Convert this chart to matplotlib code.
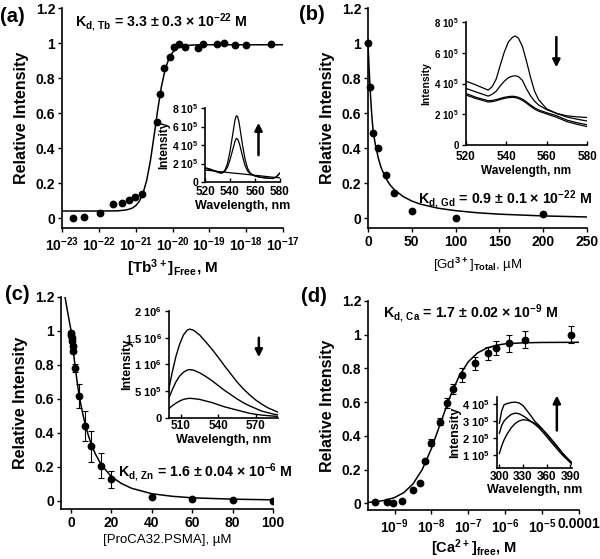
import numpy as np
import matplotlib
matplotlib.use("Agg")
import matplotlib.pyplot as plt
from matplotlib.ticker import NullLocator

plt.rcParams["font.family"] = ["Liberation Sans", "DejaVu Sans"]
plt.rcParams["font.weight"] = "bold"
plt.rcParams["axes.labelweight"] = "bold"
plt.rcParams["mathtext.fontset"] = "custom"
plt.rcParams["mathtext.rm"] = "Liberation Sans"
plt.rcParams["mathtext.bf"] = "Liberation Sans:bold"
plt.rcParams["mathtext.default"] = "bf"

# ---- (a) Tb3+ titration (x given as log10 of concentration) ----
tb_log = [-22.69, -22.39, -21.97, -21.62, -21.38, -21.19, -21.01, -20.83, -20.43, -20.35, -20.24,
          -20.06, -19.95, -19.81, -19.65, -19.32, -19.16, -18.79, -18.61, -18.31, -18.0, -17.33]
tb_int = [0.0, 0.005, 0.03, 0.08, 0.085, 0.105, 0.12, 0.14, 0.55, 0.71, 0.86,
          0.92, 0.977, 0.994, 0.975, 0.97, 0.996, 0.994, 1.0, 0.99, 0.987, 0.994]
fit_a_log = [-23, -22, -21.5, -21.3, -21.2, -21.1, -21.0, -20.9, -20.8, -20.7, -20.6, -20.5, -20.4,
             -20.3, -20.2, -20.1, -20.0, -19.9, -19.8, -19.6, -19.4, -19, -18, -17]
fit_a = [0.04, 0.04, 0.041, 0.045, 0.049, 0.056, 0.07, 0.096, 0.141, 0.216, 0.327, 0.47, 0.62,
         0.752, 0.849, 0.91, 0.946, 0.966, 0.978, 0.986, 0.989, 0.99, 0.99, 0.99]

# inset (a): Tb emission spectra
wl_a = [520, 524, 528, 532, 534, 536, 538, 540, 542, 544, 545, 546, 547, 548, 550, 552, 554, 556,
        559, 562, 566, 570, 574, 577, 580]
spec_a_hi = [1.55, 1.4, 1.2, 1.0, 1.0, 1.3, 2.0, 3.3, 5.0, 6.7, 7.15, 7.1, 6.6, 5.8, 4.0, 2.5, 1.5,
             1.0, 0.7, 0.58, 0.48, 0.42, 0.38, 0.55, 1.0]
spec_a_mid = [1.5, 1.35, 1.15, 0.97, 0.98, 1.2, 1.6, 2.4, 3.4, 4.4, 4.7, 4.65, 4.35, 3.9, 2.8, 1.8,
              1.2, 0.9, 0.7, 0.58, 0.48, 0.42, 0.38, 0.55, 0.95]
spec_a_lo = [1.3, 1.24, 1.18, 1.12, 1.09, 1.06, 1.03, 1.0, 0.97, 0.95, 0.93, 0.92, 0.91, 0.9, 0.87,
             0.84, 0.81, 0.78, 0.74, 0.7, 0.64, 0.58, 0.52, 0.48, 0.45]

# ---- (b) Gd3+ competition ----
gd_total = [0, 2.5, 6, 11, 21, 30, 50, 100, 200]
gd_int = [1.0, 0.75, 0.487, 0.398, 0.246, 0.145, 0.042, 0.0, 0.023]
fit_b_x = [0, 1, 2, 3, 4, 5, 6, 8, 10, 12, 15, 20, 25, 30, 40, 50, 60, 80, 100, 125, 150, 200, 250]
fit_b = [1.0, 0.88, 0.78, 0.69, 0.61, 0.545, 0.495, 0.43, 0.382, 0.338, 0.288, 0.23, 0.19, 0.162,
         0.123, 0.097, 0.079, 0.056, 0.042, 0.03, 0.022, 0.012, 0.006]

wl_b = [520, 525, 531, 533, 535, 537, 539, 541, 543, 544.5, 546, 548, 550, 552, 554, 556, 560, 565,
        570, 575, 580]
spec_b1 = [4.15, 3.9, 3.57, 3.8, 4.3, 5.2, 6.05, 6.7, 7.0, 7.09, 6.95, 6.4, 5.45, 4.4, 3.5, 2.95,
           2.35, 2.05, 1.9, 1.83, 1.79]
spec_b2 = [3.68, 3.45, 3.18, 3.3, 3.5, 3.85, 4.15, 4.38, 4.48, 4.5, 4.45, 4.2, 3.65, 3.2, 2.85, 2.6,
           2.3, 2.05, 1.82, 1.68, 1.56]
spec_b3 = [3.35, 3.1, 2.88, 2.9, 2.95, 3.03, 3.1, 3.15, 3.17, 3.15, 3.1, 2.98, 2.8, 2.6, 2.42, 2.28,
           2.1, 1.9, 1.62, 1.45, 1.32]
spec_b4 = [3.25, 3.02, 2.8, 2.82, 2.88, 2.96, 3.03, 3.08, 3.1, 3.08, 3.03, 2.9, 2.72, 2.52, 2.34,
           2.2, 2.02, 1.8, 1.52, 1.35, 1.2]

# ---- (c) Zn2+ / ProCA32.PSMA ----
psma = [0, 0.2, 0.4, 0.6, 0.8, 1.0, 2, 4, 7, 10, 15, 20, 40, 60, 80, 100]
psma_int = [0.99, 0.975, 0.96, 0.94, 0.91, 0.88, 0.78, 0.617, 0.44, 0.32, 0.205, 0.125, 0.023,
            0.008, 0.004, 0.0]
psma_err = [0.01, 0.01, 0.01, 0.01, 0.01, 0.01, 0.025, 0.07, 0.09, 0.09, 0.075, 0.05, 0.005, 0.005,
            0.005, 0.005]
fit_c_x = [-3, -2, -1, 0, 1, 2, 3, 4, 5, 6, 7, 8, 10, 12, 15, 20, 25, 30, 40, 50, 60, 80, 100]
fit_c = [1.2, 1.13, 1.065, 1.0, 0.89, 0.79, 0.70, 0.62, 0.555, 0.5, 0.45, 0.405, 0.33, 0.275, 0.21,
         0.14, 0.1, 0.072, 0.04, 0.025, 0.016, 0.008, 0.004]

wl_c = [500, 503, 506, 509, 512, 515, 517, 520, 525, 530, 535, 540, 545, 550, 555, 560, 565, 570,
        575, 580, 585, 588]
spec_c1 = [0.5, 0.85, 1.15, 1.38, 1.55, 1.64, 1.66, 1.64, 1.55, 1.42, 1.28, 1.13, 0.97, 0.82, 0.67,
           0.54, 0.43, 0.33, 0.25, 0.18, 0.13, 0.1]
spec_c2 = [0.35, 0.52, 0.67, 0.78, 0.85, 0.89, 0.9, 0.89, 0.84, 0.77, 0.69, 0.6, 0.51, 0.43, 0.35,
           0.28, 0.22, 0.17, 0.12, 0.09, 0.06, 0.05]
spec_c3 = [0.16, 0.22, 0.27, 0.31, 0.34, 0.355, 0.36, 0.355, 0.34, 0.31, 0.28, 0.24, 0.2, 0.17,
           0.14, 0.11, 0.08, 0.06, 0.045, 0.035, 0.025, 0.02]

# ---- (d) Ca2+ titration (x given as log10 of concentration) ----
ca_log = [-9.52, -9.20, -9.03, -8.80, -8.51, -8.30, -8.17, -8.0, -7.77, -7.57, -7.41, -7.17, -6.83,
          -6.48, -6.24, -5.9, -5.46, -4.22]
ca_int = [0.008, 0.008, 0.004, 0.012, 0.077, 0.12, 0.25, 0.36, 0.485, 0.596, 0.68, 0.76, 0.83,
          0.89, 0.92, 0.95, 0.97, 1.0]
ca_err = [0.005, 0.005, 0.005, 0.005, 0.005, 0.005, 0.01, 0.02, 0.02, 0.03, 0.03, 0.04, 0.04, 0.04,
          0.04, 0.05, 0.05, 0.05]
fit_d_log = [-9.7, -9.5, -9.25, -9.0, -8.75, -8.5, -8.25, -8.0, -7.75, -7.5, -7.25, -7.0, -6.75,
             -6.5, -6.25, -6.0, -5.5, -5.0, -4.0]
fit_d = [0.0055, 0.009, 0.018, 0.034, 0.063, 0.115, 0.2, 0.325, 0.478, 0.63, 0.754, 0.84, 0.892,
         0.921, 0.937, 0.946, 0.952, 0.954, 0.955]

wl_d = [300, 303, 306, 310, 315, 320, 325, 330, 335, 340, 345, 350, 355, 360, 365, 370, 375, 380,
        385, 392]
spec_d1 = [2.87, 3.6, 3.95, 4.02, 4.08, 4.1, 4.05, 3.9, 3.6, 3.3, 2.97, 2.75, 2.5, 2.2, 1.93, 1.65,
           1.38, 1.1, 0.85, 0.5]
spec_d2 = [2.28, 2.75, 3.0, 3.2, 3.38, 3.46, 3.42, 3.3, 3.15, 2.97, 2.8, 2.6, 2.35, 2.08, 1.8, 1.53,
           1.26, 1.0, 0.78, 0.47]
spec_d3 = [1.1, 1.55, 1.9, 2.25, 2.6, 2.85, 3.0, 3.07, 3.05, 2.97, 2.85, 2.68, 2.48, 2.25, 1.98,
           1.7, 1.42, 1.12, 0.88, 0.56]

W, H = 600, 559
fig = plt.figure(figsize=(6, 5.59), dpi=100)


def box(l, t, r, b):
    # pixel box -> figure fraction
    return [l / W, 1 - b / H, (r - l) / W, (b - t) / H]


def style(ax, size=10, tdir="out"):
    for s in ["top", "right"]:
        ax.spines[s].set_visible(False)
    for s in ["left", "bottom"]:
        ax.spines[s].set_linewidth(1.2)
    ax.tick_params(direction=tdir, length=3, width=1, labelsize=size, pad=2)
    ax.patch.set_alpha(0)


def ftext(x, y, s, **kw):
    fig.text(x / W, 1 - y / H, s, **kw)


ylabs = ["0", "0.2", "0.4", "0.6", "0.8", "1", "1.2"]
yt = [0, 0.2, 0.4, 0.6, 0.8, 1.0, 1.2]
curve = dict(color="k", lw=1.1)
dots = dict(color="k", marker="o", ms=4.6, ls="none")
arrow = dict(arrowstyle="-|>", color="k", lw=1.8, mutation_scale=11)

# ---------- (a) ----------
ax = fig.add_axes(box(62, 8, 283, 228))
ax.plot(10.0 ** np.array(fit_a_log), fit_a, **curve)
ax.plot(10.0 ** np.array(tb_log), tb_int, **dots)
ax.set_xscale("log")
ax.set_xlim(1e-23, 1e-17)
ax.set_ylim(-0.057, 1.2)
ax.set_xticks([10.0 ** e for e in range(-23, -16)])
ax.set_xticklabels([r"$10^{%d}$" % e for e in range(-23, -16)])
ax.xaxis.set_minor_locator(NullLocator())
ax.set_yticks(yt)
ax.set_yticklabels(ylabs)
style(ax)
ax.set_ylabel("Relative Intensity", fontsize=11.5, labelpad=5)
ax.set_xlabel(r"[Tb$^{3+}$]$_{Free}$, M", fontsize=11, labelpad=3)

ia = fig.add_axes(box(205, 108, 280, 182))
ia.plot(wl_a, np.array(spec_a_hi) * 1e5, color="k", lw=0.9)
ia.plot(wl_a, np.array(spec_a_mid) * 1e5, color="k", lw=0.9)
ia.plot(wl_a, np.array(spec_a_lo) * 1e5, color="k", lw=0.9)
ia.set_xlim(520, 580)
ia.set_ylim(0, 8e5)
ia.set_xticks([520, 540, 560, 580])
ia.set_yticks([0, 2e5, 4e5, 6e5, 8e5])
ia.set_yticklabels(["0", r"2 10$^5$", r"4 10$^5$", r"6 10$^5$", r"8 10$^5$"])
style(ia, size=7.5)
ia.tick_params(axis="x", direction="in", labelsize=8.5, pad=3)
ia.set_xlabel("Wavelength, nm", fontsize=9, labelpad=1)
ia.set_ylabel("Intensity", fontsize=8.5, labelpad=1)
ia.annotate("", xy=(562.8, 6.7e5), xytext=(562.8, 2.6e5), arrowprops=arrow,
            annotation_clip=False)

# ---------- (b) ----------
ax = fig.add_axes(box(368, 8, 587, 228))
ax.plot(fit_b_x, fit_b, **curve)
ax.plot(gd_total, gd_int, clip_on=False, **dots)
ax.set_xlim(0, 250)
ax.set_ylim(-0.057, 1.2)
ax.set_xticks([0, 50, 100, 150, 200, 250])
ax.set_yticks(yt)
ax.set_yticklabels(ylabs)
style(ax)
ax.set_ylabel("Relative Intensity", fontsize=11.5, labelpad=5)
ax.set_xlabel(r"[Gd$^{\mathrm{3+}}$]$_{\mathrm{Total}}$, µM", fontsize=9.5, fontweight="normal",
              labelpad=5)

ib = fig.add_axes(box(466, 22, 587, 145))
for s in [spec_b1, spec_b2, spec_b3, spec_b4]:
    ib.plot(wl_b, np.array(s) * 1e5, color="k", lw=0.9)
ib.set_xlim(520, 580)
ib.set_ylim(0, 8e5)
ib.set_xticks([520, 540, 560, 580])
ib.set_yticks([0, 2e5, 4e5, 6e5, 8e5])
ib.set_yticklabels(["0", r"2 10$^5$", r"4 10$^5$", r"6 10$^5$", r"8 10$^5$"])
style(ib, size=7)
ib.tick_params(axis="x", direction="in", labelsize=8.5, pad=4.5)
ib.set_xlabel("Wavelength, nm", fontsize=8.5, labelpad=1)
ib.set_ylabel("Intensity", fontsize=7.5, labelpad=2)
ib.annotate("", xy=(564.8, 4.87e5), xytext=(564.8, 7.2e5), arrowprops=arrow,
            annotation_clip=False)

# ---------- (c) ----------
ax = fig.add_axes(box(61, 297, 273, 509))
ax.plot(fit_c_x, fit_c, **curve)
ax.errorbar(psma, psma_int, yerr=psma_err, fmt="o", color="k", ms=4.6, elinewidth=0.8,
            capsize=2, capthick=0.8)
ax.set_xlim(-5, 100)
ax.set_ylim(-0.05, 1.2)
ax.set_xticks([0, 20, 40, 60, 80, 100])
ax.set_yticks(yt)
ax.set_yticklabels(ylabs)
style(ax)
ax.set_ylabel("Relative Intensity", fontsize=11.5, labelpad=5)
ax.set_xlabel(r"[ProCA32.PSMA], µM", fontsize=9.5, fontweight="normal", labelpad=3)

ic = fig.add_axes(box(168.5, 311, 278, 417.5))
for s in [spec_c1, spec_c2, spec_c3]:
    ic.plot(wl_c, np.array(s) * 1e6, color="k", lw=1.0)
ic.set_xlim(500, 588)
ic.set_ylim(0, 2e6)
ic.set_xticks([510, 540, 570])
ic.set_yticks([0, 5e5, 1e6, 1.5e6, 2e6])
ic.set_yticklabels(["0", r"5 10$^5$", r"1 10$^6$", r"1.5 10$^6$", r"2 10$^6$"])
style(ic, size=8)
ic.tick_params(axis="x", direction="in", labelsize=8.5)
ic.set_xlabel("Wavelength, nm", fontsize=9, labelpad=1)
ic.set_ylabel("Intensity", fontsize=9, labelpad=-6)
ic.annotate("", xy=(572.6, 1.08e6), xytext=(572.6, 1.55e6), arrowprops=arrow,
            annotation_clip=False)

# ---------- (d) ----------
ax = fig.add_axes(box(368, 301, 579, 510))
ax.plot(10.0 ** np.array(fit_d_log), fit_d, **curve)
ax.errorbar(10.0 ** np.array(ca_log), ca_int, yerr=ca_err, fmt="o", color="k", ms=4.6,
            elinewidth=0.8, capsize=2, capthick=0.8)
ax.set_xscale("log")
ax.set_xlim(10 ** -9.72, 1e-4)
ax.set_ylim(-0.04, 1.2)
ax.set_xticks([1e-9, 1e-8, 1e-7, 1e-6, 1e-5, 1e-4])
ax.set_xticklabels([r"$10^{-9}$", r"$10^{-8}$", r"$10^{-7}$", r"$10^{-6}$", r"$10^{-5}$", "0.0001"])
ax.xaxis.set_minor_locator(NullLocator())
ax.set_yticks(yt)
ax.set_yticklabels(ylabs)
style(ax)
ax.set_ylabel("Relative Intensity", fontsize=11.5, labelpad=5)
ax.set_xlabel(r"[Ca$^{2+}$]$_{free}$, M", fontsize=10.5, labelpad=1)

idd = fig.add_axes(box(497, 397, 572, 468))
for s in [spec_d1, spec_d2, spec_d3]:
    idd.plot(wl_d, np.array(s) * 1e5, color="k", lw=1.0)
idd.set_xlim(297, 392)
idd.set_ylim(0.25e5, 4.4e5)
idd.set_xticks([300, 330, 360, 390])
idd.set_yticks([1e5, 2e5, 3e5, 4e5])
idd.set_yticklabels([r"1 10$^5$", r"2 10$^5$", r"3 10$^5$", r"4 10$^5$"])
style(idd, size=8)
idd.tick_params(axis="x", direction="in", labelsize=8.5)
idd.set_xlabel("Wavelength, nm", fontsize=9, labelpad=1)
idd.set_ylabel("Intensity", fontsize=9, labelpad=1)
idd.annotate("", xy=(372.8, 4.65e5), xytext=(372.8, 2.28e5), arrowprops=arrow,
             annotation_clip=False)

# panel letters and Kd annotations
ftext(0, 16, "(a)", fontsize=14.5, va="center")
ftext(299, 15, "(b)", fontsize=14.5, va="center")
ftext(5, 295, "(c)", fontsize=14.5, va="center")
ftext(301, 297, "(d)", fontsize=14.5, va="center")
kd = dict(fontsize=10.2, va="center")
ftext(75, 22, r"K$_{d,\,Tb}$ = 3.3 ± 0.3 × 10$^{-22}$ M", **kd)
ftext(418, 199, r"K$_{d,\,Gd}$ = 0.9 ± 0.1 × 10$^{-22}$ M", **kd)
ftext(118, 472, r"K$_{d,\,Zn}$ = 1.6 ± 0.04 × 10$^{-6}$ M", **kd)
ftext(383, 313, r"K$_{d,\,Ca}$ = 1.7 ± 0.02 × 10$^{-9}$ M", **kd)

fig.savefig("out.png", dpi=100)
